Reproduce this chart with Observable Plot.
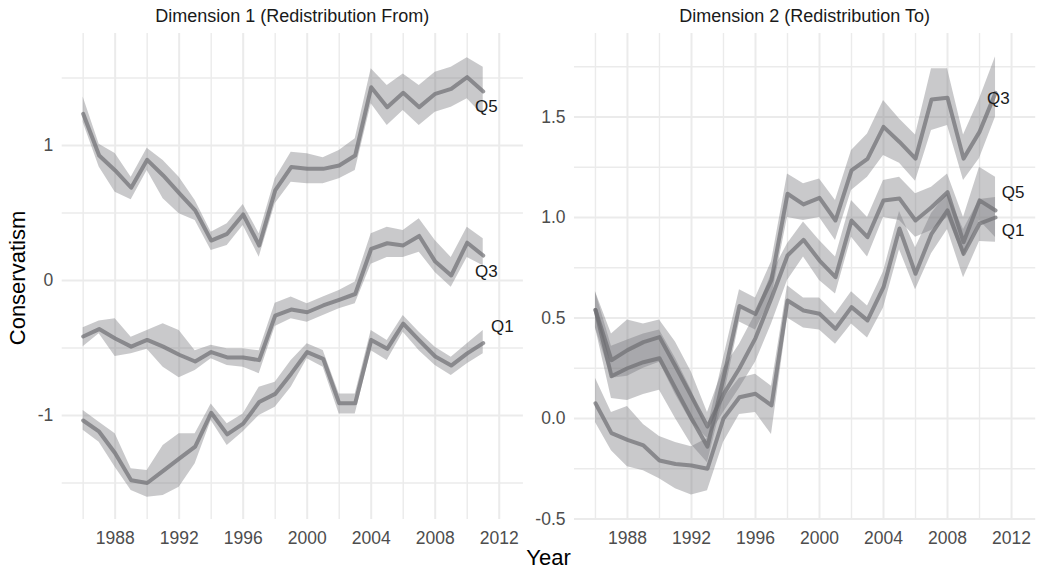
<!DOCTYPE html>
<html><head><meta charset="utf-8">
<script src="https://cdn.jsdelivr.net/npm/d3@7"></script>
<script src="https://cdn.jsdelivr.net/npm/@observablehq/plot@0.6"></script>
<style>
body{margin:0;background:#fff;}
#chart{position:relative;width:1037px;height:572px;font-family:"Liberation Sans",Arial,Helvetica,sans-serif;overflow:hidden;}
#chart svg{position:absolute;top:0;}
.t{position:absolute;white-space:nowrap;transform:translateX(-50%);}
.strip{top:6.5px;font-size:18px;line-height:18px;color:#1a1a1a;}
.axt{font-size:22px;line-height:22px;color:#000;}
</style></head>
<body><div id="chart"></div>
<script>
// ---- data ----
const years = [1986,1987,1988,1989,1990,1991,1992,1993,1994,1995,1996,1997,1998,1999,2000,2001,2002,2003,2004,2005,2006,2007,2008,2009,2010,2011];

// Dimension 1 (Redistribution From)
const d1_q5_mean = [1.235,0.926,0.815,0.687,0.894,0.778,0.647,0.519,0.296,0.346,0.489,0.259,0.667,0.84,0.827,0.827,0.852,0.926,1.432,1.284,1.39,1.284,1.383,1.42,1.506,1.40];
const d1_q5_lo   = [1.17,0.84,0.654,0.598,0.815,0.605,0.494,0.444,0.222,0.26,0.407,0.173,0.568,0.728,0.716,0.716,0.753,0.815,1.309,1.148,1.26,1.148,1.247,1.284,1.346,1.22];
const d1_q5_hi   = [1.36,1.01,0.94,0.765,0.98,0.889,0.765,0.593,0.358,0.42,0.563,0.346,0.753,0.95,0.938,0.91,0.963,1.05,1.568,1.444,1.53,1.444,1.543,1.58,1.65,1.58];
const d1_q3_mean = [-0.415,-0.36,-0.43,-0.49,-0.44,-0.49,-0.55,-0.60,-0.53,-0.57,-0.57,-0.59,-0.26,-0.215,-0.235,-0.185,-0.143,-0.10,0.235,0.276,0.26,0.33,0.14,0.037,0.28,0.185];
const d1_q3_lo   = [-0.49,-0.395,-0.563,-0.543,-0.51,-0.642,-0.72,-0.667,-0.58,-0.63,-0.642,-0.69,-0.34,-0.284,-0.309,-0.26,-0.21,-0.173,0.12,0.17,0.17,0.21,0.06,-0.05,0.17,0.11];
const d1_q3_hi   = [-0.35,-0.30,-0.284,-0.42,-0.37,-0.32,-0.37,-0.52,-0.48,-0.506,-0.506,-0.52,-0.168,-0.123,-0.173,-0.123,-0.074,-0.012,0.346,0.395,0.37,0.457,0.296,0.17,0.395,0.309];
const d1_q1_mean = [-1.037,-1.12,-1.28,-1.48,-1.50,-1.41,-1.32,-1.23,-0.98,-1.14,-1.06,-0.90,-0.84,-0.69,-0.53,-0.58,-0.91,-0.91,-0.44,-0.506,-0.32,-0.444,-0.563,-0.63,-0.54,-0.464];
const d1_q1_lo   = [-1.11,-1.198,-1.383,-1.556,-1.605,-1.593,-1.531,-1.358,-1.037,-1.222,-1.12,-1.0,-0.938,-0.79,-0.58,-0.642,-0.988,-0.988,-0.52,-0.593,-0.383,-0.52,-0.63,-0.704,-0.617,-0.543];
const d1_q1_hi   = [-0.963,-1.05,-1.136,-1.395,-1.407,-1.222,-1.136,-1.136,-0.914,-1.062,-0.988,-0.79,-0.753,-0.593,-0.469,-0.519,-0.84,-0.84,-0.37,-0.444,-0.259,-0.383,-0.494,-0.568,-0.469,-0.37];

// Dimension 2 (Redistribution To)
const d2_q3_mean = [0.54,0.21,0.25,0.28,0.30,0.15,0.0,-0.14,0.20,0.56,0.52,0.69,1.118,1.065,1.098,0.985,1.234,1.292,1.451,1.376,1.293,1.587,1.596,1.293,1.426,1.62];
const d2_q3_lo   = [0.45,0.10,0.09,0.12,0.14,0.0,-0.13,-0.22,0.10,0.48,0.44,0.60,1.0,0.985,1.0,0.886,1.134,1.2,1.308,1.27,1.18,1.433,1.458,1.184,1.293,1.5];
const d2_q3_hi   = [0.63,0.36,0.39,0.42,0.44,0.30,0.14,-0.05,0.30,0.64,0.60,0.78,1.217,1.168,1.192,1.085,1.333,1.416,1.582,1.49,1.41,1.74,1.74,1.41,1.59,1.80];
const d2_q5_mean = [0.54,0.29,0.34,0.38,0.405,0.26,0.11,-0.04,0.12,0.25,0.40,0.60,0.811,0.889,0.786,0.703,0.985,0.902,1.085,1.094,0.985,1.051,1.126,0.877,1.085,1.035];
const d2_q5_lo   = [0.45,0.20,0.21,0.25,0.28,0.12,-0.02,-0.10,0.03,0.15,0.28,0.47,0.687,0.803,0.687,0.62,0.902,0.803,1.0,0.985,0.902,0.935,1.0,0.803,0.985,0.9];
const d2_q5_hi   = [0.63,0.42,0.49,0.47,0.49,0.38,0.23,0.03,0.25,0.37,0.52,0.72,0.869,0.977,0.886,0.803,1.085,1.0,1.184,1.2,1.118,1.151,1.217,1.0,1.25,1.2];
const d2_q1_mean = [0.076,-0.073,-0.106,-0.134,-0.209,-0.226,-0.234,-0.25,0.0,0.106,0.123,0.065,0.587,0.537,0.521,0.446,0.554,0.488,0.653,0.945,0.72,0.919,1.035,0.819,0.969,1.0];
const d2_q1_lo   = [-0.02,-0.16,-0.24,-0.26,-0.30,-0.35,-0.38,-0.36,-0.12,0.02,0.03,-0.08,0.50,0.45,0.44,0.37,0.47,0.40,0.55,0.84,0.64,0.82,0.94,0.70,0.88,0.877];
const d2_q1_hi   = [0.20,0.03,0.06,-0.03,-0.09,-0.12,-0.14,-0.10,0.10,0.20,0.22,0.16,0.66,0.60,0.60,0.52,0.63,0.56,0.73,1.03,0.85,1.02,1.12,0.94,1.09,1.10];

// series labels (name, x, y)
const d1_label_names = ["Q5","Q3","Q1"];
const d1_label_x = [2011.2, 2011.2, 2012.2];
const d1_label_y = [1.289, 0.069, -0.341];
const d2_label_names = ["Q3","Q5","Q1"];
const d2_label_x = [2011.17, 2012.1, 2012.1];
const d2_label_y = [1.59, 1.123, 0.935];

// tick values
const xMajor = [1988,1992,1996,2000,2004,2008,2012];
const xMinor = [1986,1990,1994,1998,2002,2006,2010];
const d1_yMajor = [-1,0,1];
const d1_yMinor = [-1.5,-0.5,0.5,1.5];
const d2_yMajor = [-0.5,0,0.5,1.0,1.5];
const d2_yMinor = [-0.25,0.25,0.75,1.25,1.75];

const panelTitles = ["Dimension 1 (Redistribution From)", "Dimension 2 (Redistribution To)"];

// ---- build tables ----
function rowsOf(series) {
  const out = [];
  for (const [q, mean, lo, hi] of series)
    years.forEach((yr, i) => out.push({q, year: yr, mean: mean[i], lo: lo[i], hi: hi[i]}));
  return out;
}
const d1Rows = rowsOf([["Q5",d1_q5_mean,d1_q5_lo,d1_q5_hi],["Q3",d1_q3_mean,d1_q3_lo,d1_q3_hi],["Q1",d1_q1_mean,d1_q1_lo,d1_q1_hi]]);
const d2Rows = rowsOf([["Q3",d2_q3_mean,d2_q3_lo,d2_q3_hi],["Q5",d2_q5_mean,d2_q5_lo,d2_q5_hi],["Q1",d2_q1_mean,d2_q1_lo,d2_q1_hi]]);
const d1Labels = d1_label_names.map((q,i)=>({q, x:d1_label_x[i], y:d1_label_y[i]}));
const d2Labels = d2_label_names.map((q,i)=>({q, x:d2_label_x[i], y:d2_label_y[i]}));

const xDomain = [1984.69, 2013.51];
const GRID = "#ebebeb";
const FONT = '"Liberation Sans", Arial, Helvetica, sans-serif';

function panel({rows, labels, yDomain, yMajor, yMinor, yFmt, width, mL, mR}) {
  return Plot.plot({
    width, height: 572,
    marginTop: 33, marginBottom: 53, marginLeft: mL, marginRight: mR,
    style: {fontFamily: FONT, background: "transparent", overflow: "visible"},
    x: {domain: xDomain},
    y: {domain: yDomain},
    marks: [
      Plot.gridX(xMinor, {stroke: GRID, strokeOpacity: 1, strokeWidth: 1.4}),
      Plot.gridY(yMinor, {stroke: GRID, strokeOpacity: 1, strokeWidth: 1.4}),
      Plot.gridX(xMajor, {stroke: GRID, strokeOpacity: 1, strokeWidth: 2}),
      Plot.gridY(yMajor, {stroke: GRID, strokeOpacity: 1, strokeWidth: 2}),
      Plot.areaY(rows, {x: "year", y1: "lo", y2: "hi", z: "q", fill: "#77777d", fillOpacity: 0.4}),
      Plot.lineY(rows, {x: "year", y: "mean", z: "q", stroke: "#6e6e72", strokeOpacity: 0.7, strokeWidth: 4}),
      Plot.text(labels, {x: "x", y: "y", text: "q", fontSize: 17, fill: "#1a1a1a"}),
      Plot.axisX(xMajor, {tickSize: 0, tickPadding: 12, tickFormat: d => String(d), fontSize: 17.5, fill: "#4d4d4d", label: null}),
      Plot.axisY(yMajor, {tickSize: 0, tickPadding: 9, tickFormat: yFmt, fontSize: 17.5, fill: "#4d4d4d", label: null})
    ]
  });
}

const chart = document.getElementById("chart");
const left = panel({rows: d1Rows, labels: d1Labels, yDomain: [-1.7704, 1.8296], yMajor: d1_yMajor, yMinor: d1_yMinor,
  yFmt: d => String(d), width: 530, mL: 61.7, mR: 7.1});
left.style.left = "0px";
const right = panel({rows: d2Rows, labels: d2Labels, yDomain: [-0.5025, 1.9154], yMajor: d2_yMajor, yMinor: d2_yMinor,
  yFmt: d => d.toFixed(1), width: 507, mL: 44, mR: 1.8});
right.style.left = "530px";
chart.appendChild(left);
chart.appendChild(right);

function addText(cls, txt, x, y, extra) {
  const el = document.createElement("div");
  el.className = "t " + cls;
  el.textContent = txt;
  el.style.left = x + "px";
  if (y != null) el.style.top = y + "px";
  if (extra) Object.assign(el.style, extra);
  chart.appendChild(el);
}
addText("strip", panelTitles[0], 292.3, null);
addText("strip", panelTitles[1], 804.6, null);
addText("axt", "Year", 548.5, 547.4);
addText("axt", "Conservatism", 18, 278, {transform: "translate(-50%,-50%) rotate(-90deg)"});
</script>
</body></html>
